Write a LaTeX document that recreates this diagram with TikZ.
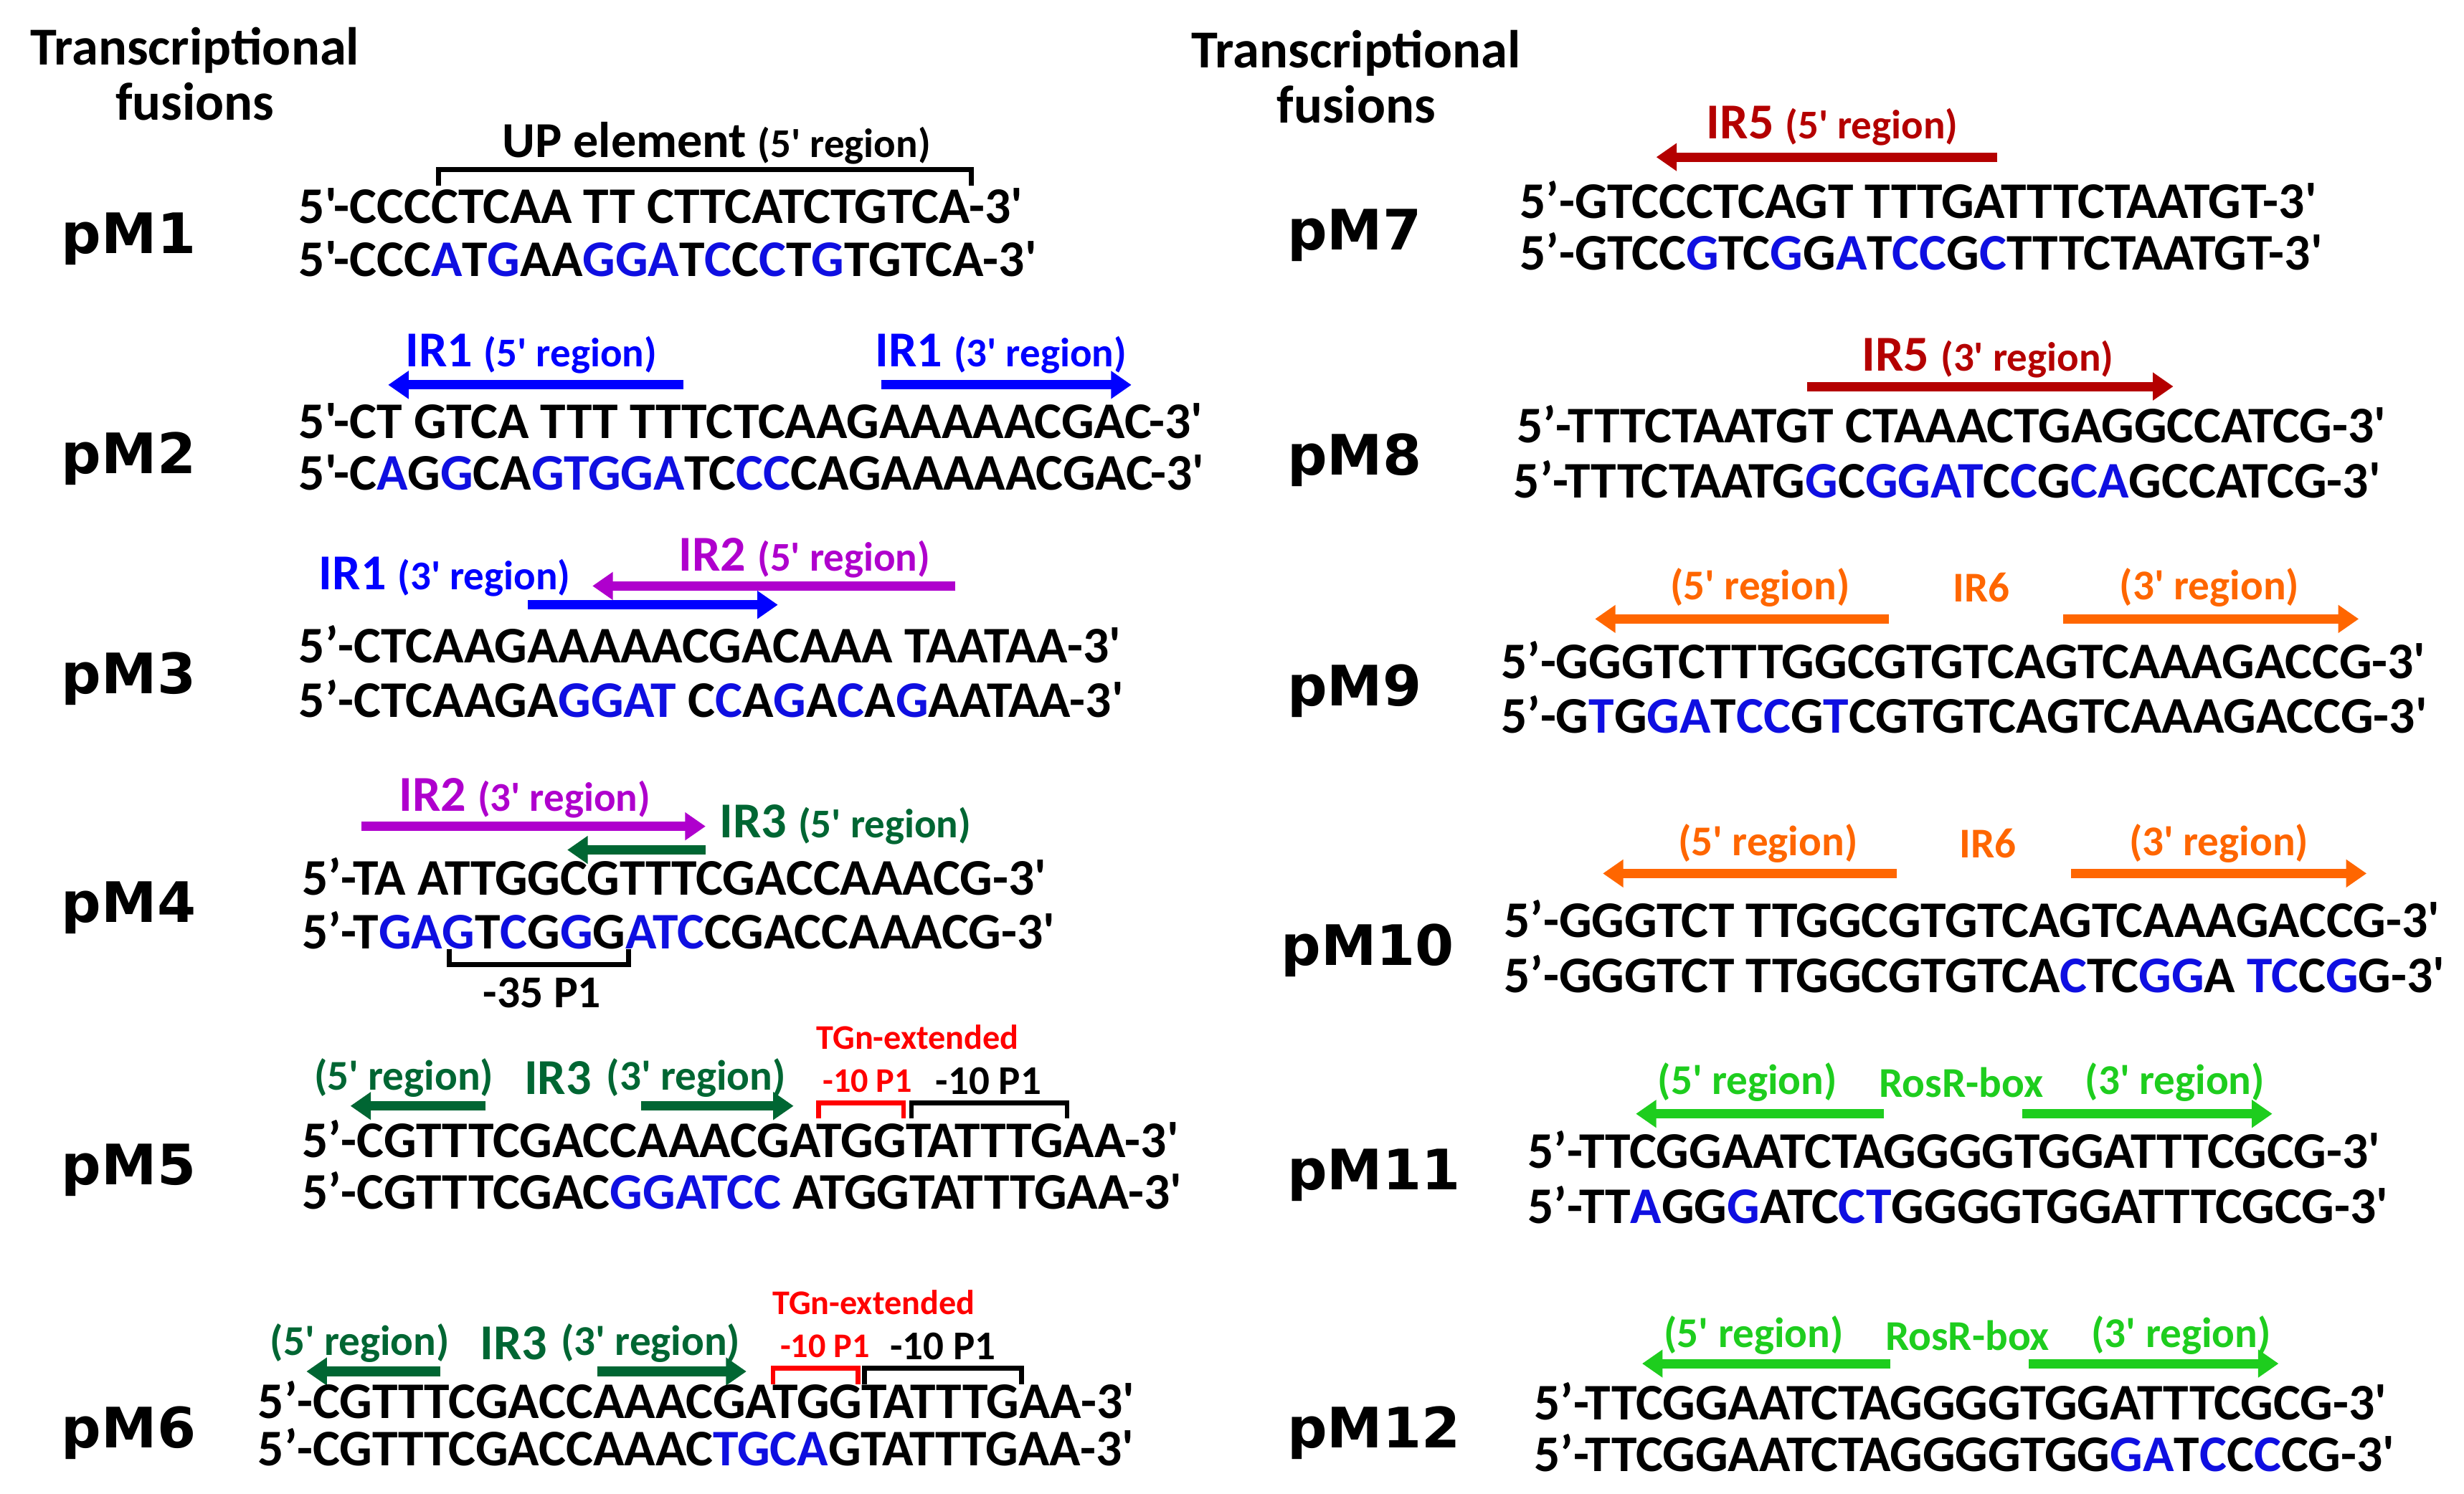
\documentclass[tikz,border=0pt]{standalone}
\usepackage{fontspec}
\setmainfont{Carlito}[Ligatures=TeXOff]
\newfontfamily\labfont{DejaVu Sans}
\usetikzlibrary{arrows.meta}
\definecolor{mutblue}{RGB}{15,15,225}
\definecolor{irblue}{RGB}{0,0,255}
\definecolor{irmag}{RGB}{175,0,205}
\definecolor{irgreen}{RGB}{0,102,51}
\definecolor{irdred}{RGB}{180,0,0}
\definecolor{irorange}{RGB}{255,102,0}
\definecolor{rosgreen}{RGB}{30,205,30}
\definecolor{tgnred}{RGB}{255,0,0}
\newcommand{\mb}[1]{\textcolor{mutblue}{#1}}
\newcommand{\rg}[1]{{\fontsize{26}{30}\selectfont#1}}
\tikzset{
  seq/.style   = {anchor=west, inner sep=0pt, font=\bfseries\fontsize{32.7}{36}\selectfont},
  plab/.style  = {anchor=west, inner sep=0pt, font=\labfont\bfseries\fontsize{35.5}{40}\selectfont},
  hdr/.style   = {align=center, inner sep=0pt, font=\bfseries\fontsize{34}{35}\selectfont},
  irlab/.style = {inner sep=0pt, font=\bfseries\fontsize{32}{36}\selectfont},
  sublab/.style= {inner sep=0pt, font=\bfseries\fontsize{27}{30}\selectfont},
  boxlab/.style= {inner sep=0pt, font=\bfseries\fontsize{22}{26}\selectfont},
  boxlabk/.style= {inner sep=0pt, font=\bfseries\fontsize{26}{30}\selectfont},
  fat/.style   = {line width=6pt, -{Triangle[length=13pt,width=17pt]}},
  brk/.style   = {line width=3pt},
}
\begin{document}
\begin{tikzpicture}[x=1pt,y=-1pt]
\useasboundingbox (0,0) rectangle (1568,951);
\node[hdr] (h1) at (124,47) {Transcriptional\\fusions};
\node[hdr] (h2) at (863,49) {Transcriptional\\fusions};

% pM1
\node[plab] (p1) at (39,152) {pM1};
\node[irlab] (up) at (456,91) {UP element \rg{(5' region)}};
\draw[brk] (279,118) -- (279,108) -- (618,108) -- (618,118);
\node[seq] (s1a) at (190,131) {5'-CCCCTCAA TT CTTCATCTGTCA-3'};
\node[seq] (s1b) at (190,165) {5'-CCC\mb{A}T\mb{G}AA\mb{GGA}T\mb{C}C\mb{C}T\mb{G}TGTCA-3'};

% pM2
\node[plab] (p2) at (39,292) {pM2};
\node[irlab,irblue] (l2a) at (338,225) {IR1 \rg{(5' region)}};
\draw[fat,irblue] (435,245) -- (247,245);
\node[irlab,irblue] (l2b) at (637,225) {IR1 \rg{(3' region)}};
\draw[fat,irblue] (561,245) -- (720,245);
\node[seq] (s2a) at (190,268) {5'-CT GTCA TTT TTTCTCAAGAAAAACGAC-3'};
\node[seq] (s2b) at (190,301) {5'-C\mb{A}G\mb{G}CA\mb{GTGGA}TC\mb{CC}CAGAAAAACGAC-3'};

% pM3
\node[plab] (p3) at (39,432) {pM3};
\node[irlab,irblue] (l3a) at (283,367) {IR1 \rg{(3' region)}};
\draw[fat,irblue] (336,385) -- (495,385);
\node[irlab,irmag] (l3b) at (512,355) {IR2 \rg{(5' region)}};
\draw[fat,irmag] (608,373) -- (377,373);
\node[seq] (s3a) at (190,410) {5’-CTCAAGAAAAACGACAAA TAATAA-3'};
\node[seq] (s3b) at (190,445) {5’-CTCAAGA\mb{GGAT} C\mb{C}A\mb{G}A\mb{C}A\mb{G}AATAA-3'};

% pM4
\node[plab] (p4) at (39,578) {pM4};
\node[irlab,irmag] (l4a) at (334,508) {IR2 \rg{(3' region)}};
\draw[fat,irmag] (230,526) -- (449,526);
\node[irlab,irgreen] (l4b) at (538,525) {IR3 \rg{(5' region)}};
\draw[fat,irgreen] (449,541) -- (361,541);
\node[seq] (s4a) at (192,558) {5’-TA ATTGGCGTTTCGACCAAACG-3'};
\node[seq] (s4b) at (192,592) {5’-T\mb{GAG}T\mb{C}G\mb{G}G\mb{ATC}CGACCAAACG-3'};
\draw[brk] (286,604) -- (286,614) -- (400,614) -- (400,604);
\node[sublab,font=\bfseries\fontsize{29}{32}\selectfont] (m35) at (345,632) {-35 P1};

% pM5
\node[plab] (p5) at (39,745) {pM5};
\node[sublab,irgreen] (l5a) at (257,686) {(5' region)};
\draw[fat,irgreen] (309,704) -- (223,704);
\node[irlab,irgreen] (l5b) at (355,686) {IR3};
\node[sublab,irgreen] (l5c) at (443,686) {(3' region)};
\draw[fat,irgreen] (408,704) -- (505,704);
\node[boxlab,tgnred] (t5) at (584,660) {TGn-extended};
\node[boxlab,tgnred] (r5) at (552,688) {-10 P1};
\node[boxlabk] (k5) at (629,688) {-10 P1};
\draw[brk,tgnred] (521,712) -- (521,702) -- (575,702) -- (575,712);
\draw[brk] (580,712) -- (580,702) -- (679,702) -- (679,712);
\node[seq] (s5a) at (192,725) {5’-CGTTTCGACCAAACGATGGTATTTGAA-3'};
\node[seq] (s5b) at (192,758) {5’-CGTTTCGAC\mb{GGATCC} ATGGTATTTGAA-3'};

% pM6
\node[plab] (p6) at (39,912) {pM6};
\node[sublab,irgreen] (l6a) at (229,855) {(5' region)};
\draw[fat,irgreen] (280,873) -- (195,873);
\node[irlab,irgreen] (l6b) at (327,855) {IR3};
\node[sublab,irgreen] (l6c) at (414,855) {(3' region)};
\draw[fat,irgreen] (380,873) -- (475,873);
\node[boxlab,tgnred] (t6) at (556,829) {TGn-extended};
\node[boxlab,tgnred] (r6) at (525,857) {-10 P1};
\node[boxlabk] (k6) at (600,857) {-10 P1};
\draw[brk,tgnred] (492,881) -- (492,871) -- (546,871) -- (546,881);
\draw[brk] (550,881) -- (550,871) -- (650,871) -- (650,881);
\node[seq] (s6a) at (164,891) {5’-CGTTTCGACCAAACGATGGTATTTGAA-3'};
\node[seq] (s6b) at (164,921) {5’-CGTTTCGACCAAAC\mb{TGCA}GTATTTGAA-3'};

% pM7
\node[plab] (p7) at (819,150) {pM7};
\node[irlab,irdred] (l7) at (1166,80) {IR5 \rg{(5' region)}};
\draw[fat,irdred] (1271,100) -- (1054,100);
\node[seq] (s7a) at (967,127) {5’-GTCCCTCAGT TTTGATTTCTAATGT-3'};
\node[seq] (s7b) at (967,160) {5’-GTCC\mb{G}TC\mb{G}G\mb{A}T\mb{CC}G\mb{C}TTTCTAATGT-3'};

% pM8
\node[plab] (p8) at (819,293) {pM8};
\node[irlab,irdred] (l8) at (1265,228) {IR5 \rg{(3' region)}};
\draw[fat,irdred] (1150,246) -- (1383,246);
\node[seq] (s8a) at (965,270) {5’-TTTCTAATGT CTAAACTGAGGCCATCG-3'};
\node[seq] (s8b) at (963,305) {5’-TTTCTAATG\mb{G}C\mb{GGAT}C\mb{C}G\mb{CA}GCCATCG-3'};

% pM9
\node[plab] (p9) at (819,440) {pM9};
\node[sublab,irorange] (l9a) at (1120,374) {(5' region)};
\draw[fat,irorange] (1202,394) -- (1015,394);
\node[sublab,irorange] (l9b) at (1261,374) {IR6};
\node[sublab,irorange] (l9c) at (1406,374) {(3' region)};
\draw[fat,irorange] (1313,394) -- (1501,394);
\node[seq] (s9a) at (955,420) {5’-GGGTCTTTGGCGTGTCAGTCAAAGACCG-3'};
\node[seq] (s9b) at (955,455) {5’-G\mb{T}G\mb{GA}T\mb{CC}G\mb{T}CGTGTCAGTCAAAGACCG-3'};

% pM10
\node[plab] (p10) at (815,605) {pM10};
\node[sublab,irorange] (l10a) at (1125,537) {(5' region)};
\draw[fat,irorange] (1207,556) -- (1020,556);
\node[sublab,irorange] (l10b) at (1265,537) {IR6};
\node[sublab,irorange] (l10c) at (1412,537) {(3' region)};
\draw[fat,irorange] (1318,556) -- (1506,556);
\node[seq] (s10a) at (957,585) {5’-GGGTCT TTGGCGTGTCAGTCAAAGACCG-3'};
\node[seq] (s10b) at (957,620) {5’-GGGTCT TTGGCGTGTCA\mb{C}TC\mb{GG}A \mb{TC}C\mb{G}G-3'};

% pM11
\node[plab] (p11) at (819,748) {pM11};
\node[sublab,rosgreen] (l11a) at (1112,689) {(5' region)};
\draw[fat,rosgreen] (1199,709) -- (1041,709);
\node[sublab,rosgreen] (l11b) at (1248,689) {RosR-box};
\node[sublab,rosgreen] (l11c) at (1384,689) {(3' region)};
\draw[fat,rosgreen] (1287,709) -- (1446,709);
\node[seq] (s11a) at (972,732) {5’-TTCGGAATCTAGGGGTGGATTTCGCG-3'};
\node[seq] (s11b) at (972,767) {5’-TT\mb{A}GG\mb{G}ATC\mb{CT}GGGGTGGATTTCGCG-3'};

% pM12
\node[plab] (p12) at (819,912) {pM12};
\node[sublab,rosgreen] (l12a) at (1116,850) {(5' region)};
\draw[fat,rosgreen] (1203,868) -- (1045,868);
\node[sublab,rosgreen] (l12b) at (1252,850) {RosR-box};
\node[sublab,rosgreen] (l12c) at (1388,850) {(3' region)};
\draw[fat,rosgreen] (1291,868) -- (1450,868);
\node[seq] (s12a) at (976,892) {5’-TTCGGAATCTAGGGGTGGATTTCGCG-3'};
\node[seq] (s12b) at (976,925) {5’-TTCGGAATCTAGGGGTGG\mb{GA}T\mb{C}C\mb{C}CG-3'};
\end{tikzpicture}
\end{document}
